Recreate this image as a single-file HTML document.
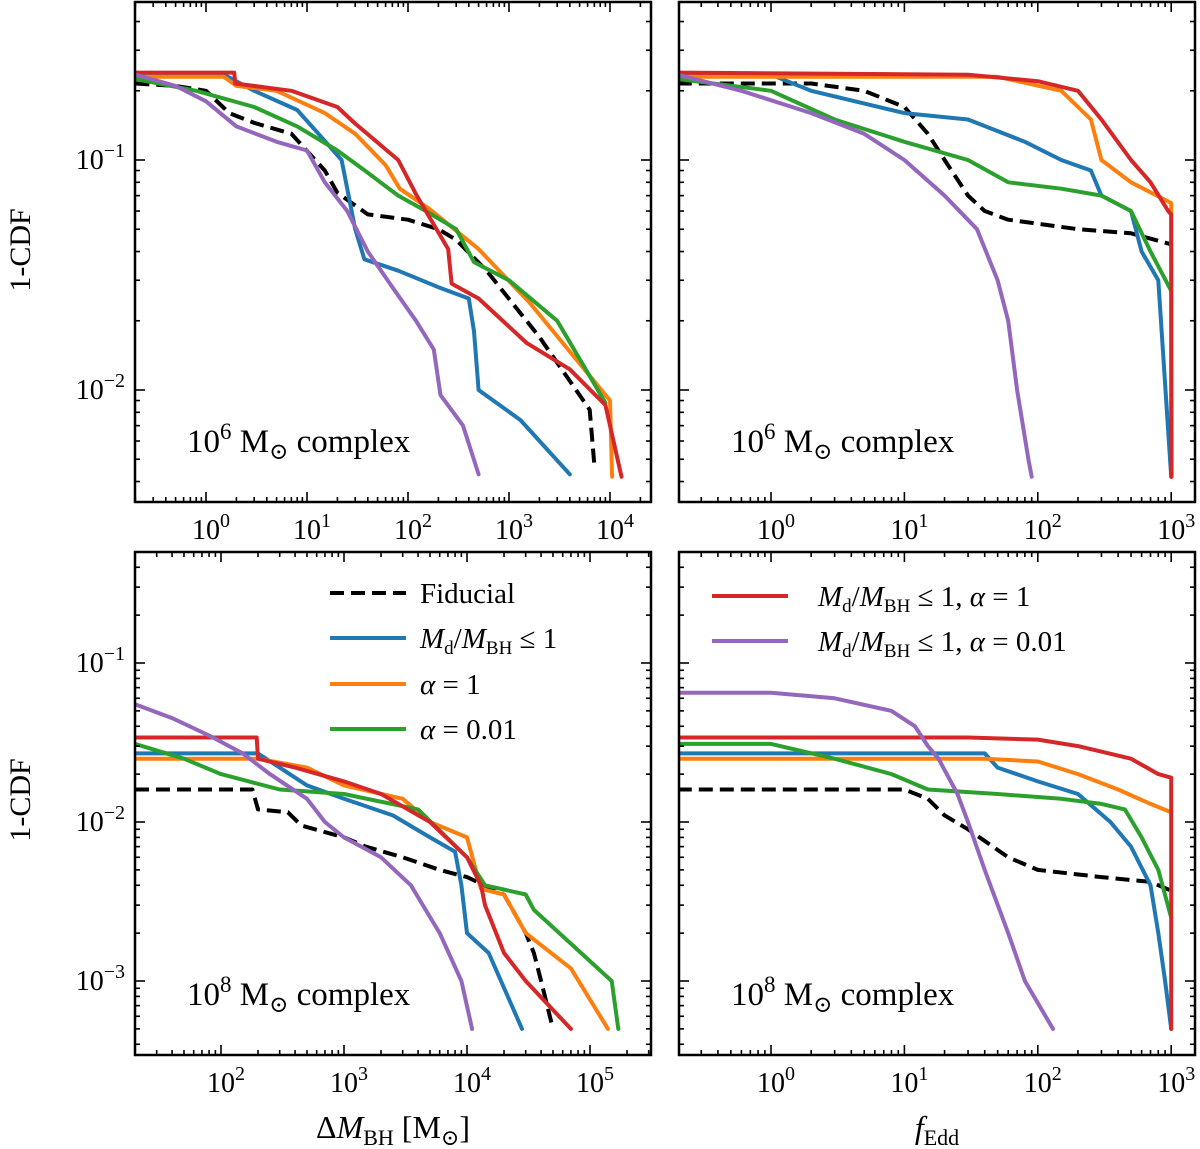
<!DOCTYPE html>
<html><head><meta charset="utf-8"><style>
html,body{margin:0;padding:0;background:#fff;}
svg{display:block;font-family:"Liberation Serif","DejaVu Serif",serif;}
</style></head><body>
<svg id="fig" width="1200" height="1149" viewBox="0 0 1200 1149" xmlns="http://www.w3.org/2000/svg"></svg>
<script>
// ---------- data ----------
const seriesNames = ["fiducial","md-le-1","alpha-1","alpha-0.01","md-le-1-alpha-1","md-le-1-alpha-0.01"];
const seriesColors = ["#000000","#1f77b4","#ff7f0e","#2ca02c","#d62728","#9467bd"];
// Top-left: dM_BH, 1e6 complex
const tlFidX=[0.2,0.5,1,1.7,3,7,15,20,40,100,200,300,600,2000,5000,6300,7000];
const tlFidY=[0.215,0.21,0.2,0.16,0.145,0.13,0.09,0.072,0.058,0.055,0.05,0.045,0.033,0.017,0.0095,0.0082,0.0047];
const tlBlueX=[0.2,1.5,3,8,13,22,30,37,80,200,400,450,500,1300,4000];
const tlBlueY=[0.235,0.235,0.2,0.165,0.13,0.1,0.05,0.037,0.033,0.028,0.025,0.018,0.010,0.0074,0.0043];
const tlOrangeX=[0.2,1.5,2,5,15,30,60,83,165,500,1600,10000,10500];
const tlOrangeY=[0.23,0.23,0.21,0.2,0.16,0.13,0.095,0.075,0.061,0.041,0.024,0.009,0.0042];
const tlGreenX=[0.2,0.8,3,8,20,40,80,150,300,450,1000,3000,9000];
const tlGreenY=[0.225,0.2,0.17,0.14,0.11,0.088,0.07,0.06,0.05,0.036,0.03,0.02,0.0088];
const tlRedX=[0.2,1.9,1.95,7,20,30,80,120,250,270,500,1500,4000,9000,13000];
const tlRedY=[0.24,0.24,0.215,0.2,0.17,0.144,0.1,0.071,0.041,0.029,0.025,0.016,0.0123,0.0086,0.0042];
const tlPurpleX=[0.2,0.5,1,2,5,10,15,25,40,70,120,180,210,350,500];
const tlPurpleY=[0.235,0.21,0.18,0.14,0.12,0.11,0.08,0.06,0.04,0.028,0.02,0.015,0.0095,0.007,0.0043];
// Top-right: f_Edd, 1e6 complex
const trFidX=[0.2,2,5,10,15,20,30,40,60,200,500,1000];
const trFidY=[0.215,0.215,0.2,0.17,0.13,0.1,0.07,0.06,0.055,0.05,0.048,0.043];
const trBlueX=[0.2,1,2,10,30,80,150,250,300,500,600,800,1000];
const trBlueY=[0.235,0.235,0.2,0.16,0.15,0.12,0.1,0.09,0.07,0.06,0.04,0.03,0.0042];
const trOrangeX=[0.2,50,150,250,300,500,1000,1010];
const trOrangeY=[0.23,0.23,0.2,0.15,0.1,0.08,0.065,0.0042];
const trGreenX=[0.2,1,3,10,30,60,150,300,500,700,1000];
const trGreenY=[0.225,0.2,0.15,0.12,0.1,0.08,0.075,0.07,0.06,0.04,0.027];
const trRedX=[0.2,30,100,200,300,500,700,950,1000,1000];
const trRedY=[0.24,0.235,0.22,0.2,0.15,0.1,0.08,0.06,0.058,0.0042];
const trPurpleX=[0.2,0.6,2,5,10,20,35,50,60,70,85,90];
const trPurpleY=[0.235,0.2,0.16,0.13,0.1,0.07,0.05,0.03,0.02,0.01,0.005,0.0042];
// Bottom-left: dM_BH, 1e8 complex
const blFidX=[20,180,200,350,450,1000,1500,3000,6000,10000,20000,30000,35000,40000,50000];
const blFidY=[0.016,0.016,0.012,0.0115,0.0095,0.008,0.007,0.006,0.005,0.0045,0.0035,0.002,0.0015,0.001,0.0005];
const blBlueX=[20,200,300,500,1000,2500,5000,8000,9000,10000,15000,28000];
const blBlueY=[0.027,0.027,0.022,0.017,0.014,0.011,0.008,0.0065,0.004,0.002,0.0015,0.0005];
const blOrangeX=[20,200,500,1000,3000,5000,10000,13000,20000,30000,70000,140000];
const blOrangeY=[0.025,0.025,0.022,0.017,0.014,0.01,0.008,0.0038,0.0035,0.002,0.0012,0.0005];
const blGreenX=[20,50,100,300,1000,4000,10000,14000,30000,35000,150000,170000];
const blGreenY=[0.031,0.025,0.02,0.016,0.015,0.012,0.006,0.004,0.0035,0.0028,0.001,0.0005];
const blRedX=[20,195,200,400,1000,2000,5000,10000,13000,14000,20000,30000,70000];
const blRedY=[0.034,0.034,0.025,0.022,0.018,0.015,0.01,0.006,0.004,0.003,0.0015,0.001,0.0005];
const blPurpleX=[20,40,80,150,250,500,700,1000,2000,3500,6000,9000,11000];
const blPurpleY=[0.055,0.045,0.035,0.027,0.02,0.014,0.01,0.008,0.006,0.004,0.002,0.001,0.0005];
// Bottom-right: f_Edd, 1e8 complex
const brFidX=[0.2,10,15,20,30,60,100,300,700,1000];
const brFidY=[0.016,0.016,0.014,0.011,0.009,0.006,0.005,0.0045,0.0042,0.0037];
const brBlueX=[0.2,40,50,100,200,350,500,700,800,900,1000];
const brBlueY=[0.027,0.027,0.022,0.018,0.015,0.01,0.007,0.004,0.002,0.001,0.0005];
const brOrangeX=[0.2,40,100,200,400,700,1000];
const brOrangeY=[0.025,0.025,0.024,0.02,0.016,0.013,0.0115];
const brGreenX=[0.2,1,3,8,15,50,150,300,450,600,800,1000];
const brGreenY=[0.031,0.031,0.025,0.02,0.016,0.015,0.014,0.013,0.012,0.008,0.005,0.0025];
const brRedX=[0.2,30,100,200,500,800,1000,1000];
const brRedY=[0.034,0.034,0.033,0.03,0.025,0.02,0.019,0.0005];
const brPurpleX=[0.2,1,3,8,12,15,18,25,30,40,60,80,130];
const brPurpleY=[0.065,0.065,0.06,0.05,0.04,0.03,0.025,0.015,0.01,0.005,0.002,0.001,0.0005];

const tlTicksX=[0,1,2,3,4], trTicksX=[0,1,2,3], blTicksX=[2,3,4,5];
const topTicksY=[-1,-2], botTicksY=[-1,-2,-3];

// ---------- drawing ----------
const NS="http://www.w3.org/2000/svg";
const svg=document.getElementById('fig');
function mk(tag,attrs,parent){const e=document.createElementNS(NS,tag);for(const k in attrs)e.setAttribute(k,attrs[k]);(parent||svg).appendChild(e);return e;}

const panels=[
 {id:'top-left',x0:135,x1:651,y0:2,y1:502,xa:206,xd:101,ya:160,yd:230,
  xt:tlTicksX,yt:topTicksY,label:'6',series:[[tlFidX,tlFidY],[tlBlueX,tlBlueY],[tlOrangeX,tlOrangeY],[tlGreenX,tlGreenY],[tlRedX,tlRedY],[tlPurpleX,tlPurpleY]],xanchor:0},
 {id:'top-right',x0:679,x1:1195,y0:2,y1:502,xa:771,xd:133.4,ya:160,yd:230,
  xt:trTicksX,yt:topTicksY,label:'6',series:[[trFidX,trFidY],[trBlueX,trBlueY],[trOrangeX,trOrangeY],[trGreenX,trGreenY],[trRedX,trRedY],[trPurpleX,trPurpleY]],xanchor:0},
 {id:'bottom-left',x0:135,x1:651,y0:552,y1:1055,xa:221,xd:123,ya:663,yd:159,
  xt:blTicksX,yt:botTicksY,label:'8',series:[[blFidX,blFidY],[blBlueX,blBlueY],[blOrangeX,blOrangeY],[blGreenX,blGreenY],[blRedX,blRedY],[blPurpleX,blPurpleY]],xanchor:2},
 {id:'bottom-right',x0:679,x1:1195,y0:552,y1:1055,xa:771,xd:133.4,ya:663,yd:159,
  xt:trTicksX,yt:botTicksY,label:'8',series:[[brFidX,brFidY],[brBlueX,brBlueY],[brOrangeX,brOrangeY],[brGreenX,brGreenY],[brRedX,brRedY],[brPurpleX,brPurpleY]],xanchor:0}
];

panels.forEach((p,pi)=>{
  const X=v=>p.xa+(Math.log10(v)-p.xanchor)*p.xd;
  const Y=v=>p.ya-(Math.log10(v)+1)*p.yd;
  const g=mk('g',{});
  
  
  const cid='clip'+pi;
  const cp=mk('clipPath',{id:cid},g);
  mk('rect',{x:p.x0,y:p.y0,width:p.x1-p.x0,height:p.y1-p.y0},cp);
  const lines=mk('g',{'clip-path':'url(#'+cid+')'},g);
  p.series.forEach((s,si)=>{
    const pts=s[0].map((v,i)=>X(v).toFixed(1)+','+Y(s[1][i]).toFixed(1)).join(' ');
    const pl=mk('polyline',{points:pts,fill:'none',stroke:seriesColors[si],'stroke-width':4,'stroke-linejoin':'round','stroke-linecap':si===0?'butt':'round'},lines);
    if(si===0)pl.setAttribute('stroke-dasharray','14,7');
    
    
  });
  const tk=mk('g',{stroke:'#000','stroke-width':1.6},g);
  const xmin=p.xanchor+(p.x0-p.xa)/p.xd, xmax=p.xanchor+(p.x1-p.xa)/p.xd;
  for(let d=Math.floor(xmin);d<=Math.ceil(xmax);d++){for(let m=1;m<10;m++){const lv=d+Math.log10(m);if(lv<xmin||lv>xmax)continue;const px=p.xa+(lv-p.xanchor)*p.xd;const L=m===1?10:5;
    mk('line',{x1:px,x2:px,y1:p.y1,y2:p.y1-L},tk);mk('line',{x1:px,x2:px,y1:p.y0,y2:p.y0+L},tk);}}
  const ymax=-1+(p.ya-p.y0)/p.yd, ymin=-1-(p.y1-p.ya)/p.yd;
  for(let d=Math.floor(ymin);d<=Math.ceil(ymax);d++){for(let m=1;m<10;m++){const lv=d+Math.log10(m);if(lv<ymin||lv>ymax)continue;const py=p.ya-(lv+1)*p.yd;const L=m===1?10:5;
    mk('line',{x1:p.x0,x2:p.x0+L,y1:py,y2:py},tk);mk('line',{x1:p.x1,x2:p.x1-L,y1:py,y2:py},tk);}}
  const fr=mk('rect',{x:p.x0,y:p.y0,width:p.x1-p.x0,height:p.y1-p.y0,fill:'none',stroke:'#000','stroke-width':2.5},g);
  
  
  p.xt.forEach(e=>{const px=p.xa+(e-p.xanchor)*p.xd;
    const t=mk('text',{x:px+5,y:p.y1+37,'font-size':28,'text-anchor':'middle'},g);
    
    
    t.appendChild(document.createTextNode('10'));
    const s=mk('tspan',{dy:-12,'font-size':20},t);s.textContent=String(e);});
  if(pi%2===0){p.yt.forEach(e=>{const py=p.ya-(e+1)*p.yd;
    const t=mk('text',{x:p.x0-10,y:py+9,'font-size':28,'text-anchor':'end'},g);
    
    
    t.appendChild(document.createTextNode('10'));
    const s=mk('tspan',{dy:-12,'font-size':20},t);s.textContent='\u2212'+(-e);});}
  const a=mk('text',{x:p.x0+52,y:p.y1-50,'font-size':33},g);
  
  
  a.appendChild(document.createTextNode('10'));
  const sp=mk('tspan',{dy:-13,'font-size':23},a);sp.textContent=p.label;
  const sp2=mk('tspan',{dy:13},a);sp2.textContent=' M';
  const sp3=mk('tspan',{dy:7,'font-size':23},a);sp3.textContent='\u2299';
  const sp4=mk('tspan',{dy:-7},a);sp4.textContent=' complex';
});

[[250,'y-axis-title-top'],[800,'y-axis-title-bottom']].forEach(([cy,n])=>{
  const t=mk('text',{x:0,y:0,'font-size':30,'text-anchor':'middle',transform:'translate(30,'+cy+') rotate(-90)'});
  t.textContent='1-CDF';
  
  
});
const xl=mk('text',{x:393,y:1138,'font-size':32,'text-anchor':'middle'});


xl.innerHTML='\u0394<tspan font-style="italic">M</tspan><tspan font-size="22" dy="7">BH</tspan><tspan dy="-7"> [M</tspan><tspan font-size="22" dy="7">\u2299</tspan><tspan dy="-7">]</tspan>';
const xr=mk('text',{x:937,y:1138,'font-size':32,'text-anchor':'middle'});


xr.innerHTML='<tspan font-style="italic">f</tspan><tspan font-size="22" dy="7">Edd</tspan>';

const mdLabel='<tspan font-style="italic">M</tspan><tspan font-size="19" dy="6">d</tspan><tspan dy="-6">/</tspan><tspan font-style="italic">M</tspan><tspan font-size="19" dy="6">BH</tspan><tspan dy="-6"> \u2264 1</tspan>';
const legendL=[[0,'Fiducial',593],[1,mdLabel,638],[2,'<tspan font-style="italic">\u03b1</tspan> = 1',684],[3,'<tspan font-style="italic">\u03b1</tspan> = 0.01',729]];
const legendR=[[4,mdLabel+', <tspan font-style="italic">\u03b1</tspan> = 1',596],[5,mdLabel+', <tspan font-style="italic">\u03b1</tspan> = 0.01',641]];
function legend(items,lx,tx,nm){
  const g=mk('g',{});
  
  
  items.forEach(([si,html,y])=>{
    const ln=mk('line',{x1:lx,x2:lx+76,y1:y,y2:y,stroke:seriesColors[si],'stroke-width':4},g);
    if(si===0)ln.setAttribute('stroke-dasharray','14,7');
    
    
    const t=mk('text',{x:tx,y:y+10,'font-size':29},g);
    t.innerHTML=html;
    
    
  });
}
legend(legendL,330,420,'legend-left');
legend(legendR,712,818,'legend-right');
</script>
</body></html>
